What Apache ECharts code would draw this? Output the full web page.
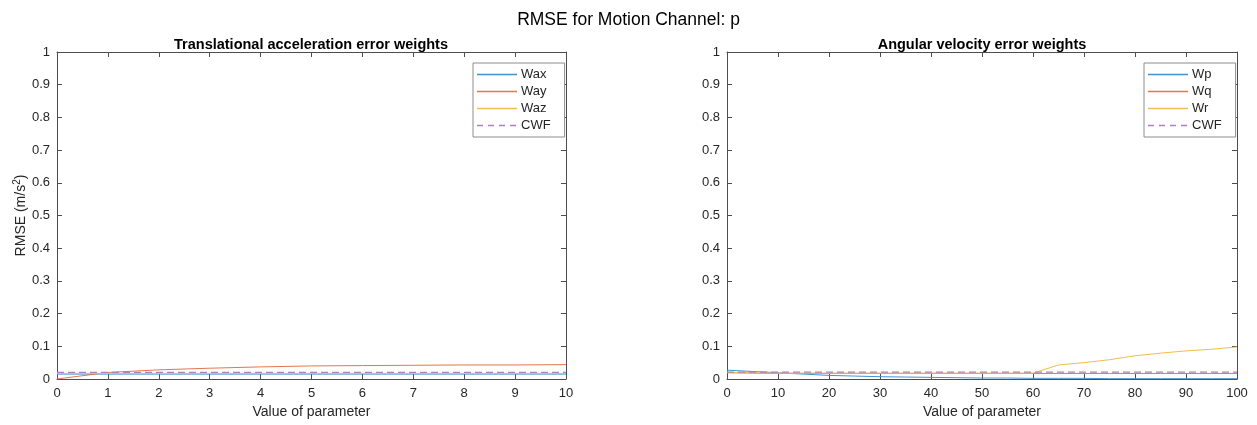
<!DOCTYPE html>
<html>
<head>
<meta charset="utf-8">
<script src="https://cdn.jsdelivr.net/npm/echarts@6/dist/echarts.min.js"></script>
<style>
  html, body { margin: 0; padding: 0; background: #fff; }
  #chart { width: 1257px; height: 425px; }
</style>
</head>
<body>
<div id="chart"></div>
<script>
// Parameter sweeps
const transX = [0, 1, 2, 3, 4, 5, 6, 7, 8, 9, 10];
const angX = [0, 5, 10, 15, 20, 25, 30, 35, 40, 45, 50, 55, 60, 65, 70, 75, 80, 85, 90, 95, 100];

// Translational acceleration error weights (RMSE, m/s^2)
const wax = [0.015, 0.015, 0.015, 0.015, 0.015, 0.015, 0.015, 0.015, 0.015, 0.015, 0.015];
const way = [0.000, 0.020, 0.028, 0.033, 0.037, 0.040, 0.041, 0.042, 0.043, 0.043, 0.044];
const waz = [0.017, 0.017, 0.017, 0.017, 0.017, 0.017, 0.017, 0.017, 0.017, 0.017, 0.017];
const cwfTrans = 0.020;

// Angular velocity error weights
const wp = [0.027, 0.023, 0.019, 0.015, 0.011, 0.009, 0.007, 0.006, 0.005, 0.004, 0.003,
            0.003, 0.002, 0.002, 0.002, 0.001, 0.001, 0.001, 0.001, 0.001, 0.001];
const wq = [0.019, 0.018, 0.017, 0.017, 0.017, 0.017, 0.017, 0.017, 0.017, 0.017, 0.017,
            0.017, 0.017, 0.017, 0.017, 0.017, 0.017, 0.017, 0.017, 0.017, 0.017];
const wr = [0.020, 0.019, 0.018, 0.018, 0.018, 0.018, 0.018, 0.018, 0.018, 0.018, 0.018,
            0.018, 0.018, 0.043, 0.050, 0.059, 0.071, 0.079, 0.086, 0.091, 0.098];
const cwfAng = 0.021;

const mainTitle = 'RMSE for Motion Channel: p';
const leftTitle = 'Translational acceleration error weights';
const rightTitle = 'Angular velocity error weights';
const xName = 'Value of parameter';

const FONT = 'Liberation Sans, Arial, sans-serif';
const AX = '#4d4d4d';
const TXT = '#262626';
const COLORS = { blue: '#3f93d2', orange: '#e2774a', yellow: '#efbf4a', purple: '#b07fc0' };

// Legend key glyphs: a thin solid stroke and a dashed stroke
const SOLID_ICON = 'path://M0,0H40V1.3H0Z';
const DASH_ICON = 'path://M0,0H6V1.3H0Z M11,0H17V1.3H11Z M22,0H28V1.3H22Z M33,0H39V1.3H33Z M39.9,0H40V1.3H39.9Z';

const pairs = (xs, ys) => xs.map((x, i) => [x, ys[i]]);
const flat = (xs, v) => xs.map(x => [x, v]);

function xAxes(grid, max, interval) {
  const base = {
    gridIndex: grid, type: 'value', min: 0, max: max, interval: interval,
    axisLine: { show: true, onZero: false, lineStyle: { color: AX, width: 1 } },
    axisTick: { show: true, inside: true, length: 5, lineStyle: { color: AX } },
    splitLine: { show: false }
  };
  return [
    Object.assign({}, base, {
      position: 'bottom',
      axisLabel: { color: TXT, fontFamily: FONT, fontSize: 13, margin: 8 },
      name: xName, nameLocation: 'middle', nameGap: 26,
      nameTextStyle: { color: TXT, fontFamily: FONT, fontSize: 14 }
    }),
    Object.assign({}, base, { position: 'top', axisLabel: { show: false } })
  ];
}

function yAxes(grid, withName) {
  const base = {
    gridIndex: grid, type: 'value', min: 0, max: 1, interval: 0.1,
    axisLine: { show: true, onZero: false, lineStyle: { color: AX, width: 1 } },
    axisTick: { show: true, inside: true, length: 5, lineStyle: { color: AX } },
    splitLine: { show: false }
  };
  const left = Object.assign({}, base, {
    position: 'left',
    axisLabel: { color: TXT, fontFamily: FONT, fontSize: 13, margin: 7 }
  });
  if (withName) {
    Object.assign(left, {
      name: '{n|RMSE (m/s}{s|2}{n|)}', nameLocation: 'middle', nameGap: 24,
      nameTextStyle: {
        color: TXT, fontFamily: FONT, fontSize: 14,
        rich: {
          n: { color: TXT, fontFamily: FONT, fontSize: 14 },
          s: { color: TXT, fontFamily: FONT, fontSize: 10, verticalAlign: 'top', padding: [0, 0, 8, 0] }
        }
      }
    });
  }
  return [left, Object.assign({}, base, { position: 'right', axisLabel: { show: false } })];
}

function line(name, data, color, xi, yi, dashed) {
  return {
    name: name, type: 'line', data: data, xAxisIndex: xi, yAxisIndex: yi,
    symbol: 'none', smooth: false, animation: false,
    color: color,
    lineStyle: { color: color, width: dashed ? 1.3 : 1, type: dashed ? [7, 4] : 'solid' }
  };
}

const KEY_COLORS = [COLORS.blue, COLORS.orange, COLORS.yellow, COLORS.purple];

function legend(left, names) {
  return {
    data: names.map((n, i) => ({
      name: n,
      icon: i === 3 ? DASH_ICON : SOLID_ICON,
      itemStyle: { color: KEY_COLORS[i], borderWidth: 0 }
    })),
    formatter: n => n.trim(),
    left: left, top: 63, orient: 'vertical',
    backgroundColor: '#fff', borderColor: '#8c8c8c', borderWidth: 1,
    padding: [5, 14, 5, 4], itemGap: 4, itemWidth: 40, itemHeight: 13,
    symbolKeepAspect: true,
    textStyle: { color: TXT, fontFamily: FONT, fontSize: 13, padding: [0, 0, 0, -1] },
    selectedMode: false
  };
}

const chart = echarts.init(document.getElementById('chart'), null, { renderer: 'canvas' });
chart.setOption({
  backgroundColor: '#fff',
  animation: false,
  title: [
    { text: mainTitle, left: 'center', top: 6,
      textStyle: { color: '#000', fontFamily: FONT, fontSize: 17.5, fontWeight: 'normal' } },
    { text: leftTitle, left: 306, top: 32, textAlign: 'center',
      textStyle: { color: '#000', fontFamily: FONT, fontSize: 14.5, fontWeight: 'bold' } },
    { text: rightTitle, left: 977, top: 32, textAlign: 'center',
      textStyle: { color: '#000', fontFamily: FONT, fontSize: 14.5, fontWeight: 'bold' } }
  ],
  grid: [
    { left: 57, right: 691, top: 52, bottom: 46, containLabel: false },
    { left: 727, right: 20, top: 52, bottom: 46, containLabel: false }
  ],
  xAxis: xAxes(0, 10, 1).concat(xAxes(1, 100, 10)),
  yAxis: yAxes(0, true).concat(yAxes(1, false)),
  legend: [
    legend(473, ['Wax', 'Way', 'Waz', 'CWF']),
    legend(1144, ['Wp', 'Wq', 'Wr', 'CWF '])
  ],
  series: [
    line('Wax', pairs(transX, wax), COLORS.blue, 0, 0),
    line('Way', pairs(transX, way), COLORS.orange, 0, 0),
    line('Waz', pairs(transX, waz), COLORS.yellow, 0, 0),
    line('CWF', flat(transX, cwfTrans), COLORS.purple, 0, 0, true),
    line('Wp', pairs(angX, wp), COLORS.blue, 2, 2),
    line('Wq', pairs(angX, wq), COLORS.orange, 2, 2),
    line('Wr', pairs(angX, wr), COLORS.yellow, 2, 2),
    line('CWF ', flat(angX, cwfAng), COLORS.purple, 2, 2, true)
  ]
});
</script>
</body>
</html>
